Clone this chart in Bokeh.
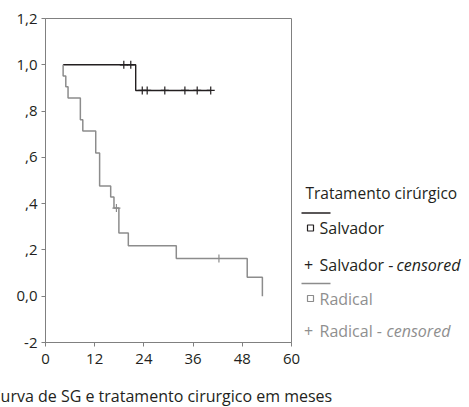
from bokeh.plotting import figure
from bokeh.layouts import row, column
from bokeh.models import Range1d, FixedTicker
from bokeh.core.properties import value
from bokeh.embed import file_html
from bokeh.resources import INLINE

# ---- data ----
x_ticks = [0, 12, 24, 36, 48, 60]
y_ticks = [-0.2, 0.0, 0.2, 0.4, 0.6, 0.8, 1.0, 1.2]
y_labels = ["-2", "0,0", ",2", ",4", ",6", ",8", "1,0", "1,2"]

salv_start = 4.3
salv_event_t = [22.0]
salv_event_s = [0.889]
salv_end = 40.3
salv_cens_t = [19.1, 20.8, 23.6, 24.8, 29.1, 34.0, 37.0, 40.3]
salv_cens_s = [1.0, 1.0, 0.889, 0.889, 0.889, 0.889, 0.889, 0.889]

rad_start = 4.3
rad_event_t = [4.3, 4.95, 5.5, 8.5, 9.1, 12.25, 13.2, 15.9, 16.7, 17.9, 20.2, 31.9, 49.2, 52.9]
rad_event_s = [0.952, 0.905, 0.857, 0.762, 0.714, 0.619, 0.476, 0.429, 0.381, 0.273, 0.218, 0.163, 0.082, 0.0]
rad_end = 52.9
rad_cens_t = [17.3, 42.3]
rad_cens_s = [0.381, 0.163]

legend_title = "Tratamento cirúrgico"
groups = ["Salvador", "Radical"]
censored_word = "censored"
caption = "Curva de SG e tratamento cirurgico em meses"

# ---- style ----
FONT = "Open Sans"
DARK = "#231f20"
GREY = "#8c8c8c"
GREY_TXT = "#8f8f8f"
FRAME = "#808080"

TOTAL_W, TOTAL_H = 469, 407
MAIN_W, MAIN_H = 300, 372
L, T, R, B = 45, 18, 291, 342  # frame edges in canvas px
X0, X1, Y0, Y1 = 0, 60, -0.2, 1.2


def km_path(start, times, surv, end):
    xs, ys = [start], [1.0]
    prev = 1.0
    for t, s in zip(times, surv):
        xs += [t, t]
        ys += [prev, s]
        prev = s
    if end > xs[-1]:
        xs.append(end)
        ys.append(prev)
    return xs, ys


# ---------------- main plot ----------------
p = figure(width=MAIN_W, height=MAIN_H, x_range=Range1d(X0, X1), y_range=Range1d(Y0, Y1),
           output_backend="svg", toolbar_location=None,
           min_border_left=L, min_border_top=T, min_border_right=MAIN_W - R,
           min_border_bottom=MAIN_H - B)
p.xgrid.visible = False
p.ygrid.visible = False
p.outline_line_color = FRAME
p.outline_line_width = 1

p.xaxis.ticker = FixedTicker(ticks=x_ticks)
p.yaxis.ticker = FixedTicker(ticks=y_ticks)
p.yaxis.major_label_overrides = {t: l for t, l in zip(y_ticks, y_labels)}
for ax in (p.xaxis[0], p.yaxis[0]):
    ax.axis_line_color = FRAME
    ax.major_tick_line_color = FRAME
    ax.minor_tick_line_color = None
    ax.major_tick_in = 0
    ax.major_tick_out = 4
    ax.major_label_text_font = FONT
    ax.major_label_text_font_size = "15px"
    ax.major_label_text_color = DARK
p.yaxis[0].major_label_standoff = 4
p.xaxis[0].major_label_standoff = 7

sx, sy = km_path(salv_start, salv_event_t, salv_event_s, salv_end)
p.line(sx, sy, line_color=DARK, line_width=1.4)
p.scatter(salv_cens_t, salv_cens_s, marker="cross", size=8, line_color=DARK, line_width=1.2)

rx, ry = km_path(rad_start, rad_event_t, rad_event_s, rad_end)
p.line(rx, ry, line_color=GREY, line_width=1.5)
p.scatter(rad_cens_t, rad_cens_s, marker="cross", size=8, line_color=GREY, line_width=1.2)

# ---------------- legend panel (coordinates = page pixels) ----------------
LEG_W = TOTAL_W - MAIN_W
leg = figure(width=LEG_W, height=MAIN_H, x_range=Range1d(MAIN_W, TOTAL_W), y_range=Range1d(B, T),
             output_backend="svg", toolbar_location=None,
             x_axis_location=None, y_axis_location=None,
             min_border_left=0, min_border_right=0,
             min_border_top=T, min_border_bottom=MAIN_H - B)
leg.xgrid.visible = False
leg.ygrid.visible = False
leg.outline_line_color = None

tf = value(FONT)
leg.text(x=[305], y=[192.5], text=[legend_title], text_font=tf, text_font_size="15.5px",
         text_color=DARK, text_baseline="middle")
block_y = [212.5, 283]
colors = [DARK, GREY]
txt_colors = [DARK, GREY_TXT]
gap_square = [15, 15]
gap_cens = [51.5, 47.5]
cens_x = [396, 386]
for g, y0, c, tc, gs, gc, cx in zip(groups, block_y, colors, txt_colors, gap_square, gap_cens, cens_x):
    leg.line([301, 330], [y0, y0], line_color=c, line_width=1.5)
    leg.scatter([310], [y0 + gs], marker="square", size=6, fill_color=None,
                line_color=c, line_width=1.2)
    leg.text(x=[319], y=[y0 + gs], text=[g], text_font=tf, text_font_size="16px",
             text_color=tc, text_baseline="middle")
    leg.text(x=[308], y=[y0 + gc], text=["+"], text_font=tf, text_font_size="16px",
             text_color=tc, text_baseline="middle", text_align="center")
    leg.text(x=[319], y=[y0 + gc], text=[g + " - "], text_font=tf, text_font_size="16px",
             text_color=tc, text_baseline="middle")
    leg.text(x=[cx], y=[y0 + gc], text=[censored_word], text_font=tf, text_font_size="16px",
             text_color=tc, text_baseline="middle", text_font_style=value("italic"))

# ---------------- caption panel (coordinates = page pixels) ----------------
CAP_H = TOTAL_H - MAIN_H
cap = figure(width=TOTAL_W, height=CAP_H, x_range=Range1d(0, TOTAL_W), y_range=Range1d(TOTAL_H, MAIN_H),
             output_backend="svg", toolbar_location=None,
             x_axis_location=None, y_axis_location=None,
             min_border_left=0, min_border_right=0, min_border_top=0, min_border_bottom=0)
cap.xgrid.visible = False
cap.ygrid.visible = False
cap.outline_line_color = None
cap.text(x=[-10], y=[395], text=[caption], text_font=tf, text_font_size="16px",
         text_color=DARK, text_baseline="middle")

layout = column(row(p, leg, spacing=0), cap, spacing=0)

open("out.html", "w").write(file_html(layout, INLINE))
